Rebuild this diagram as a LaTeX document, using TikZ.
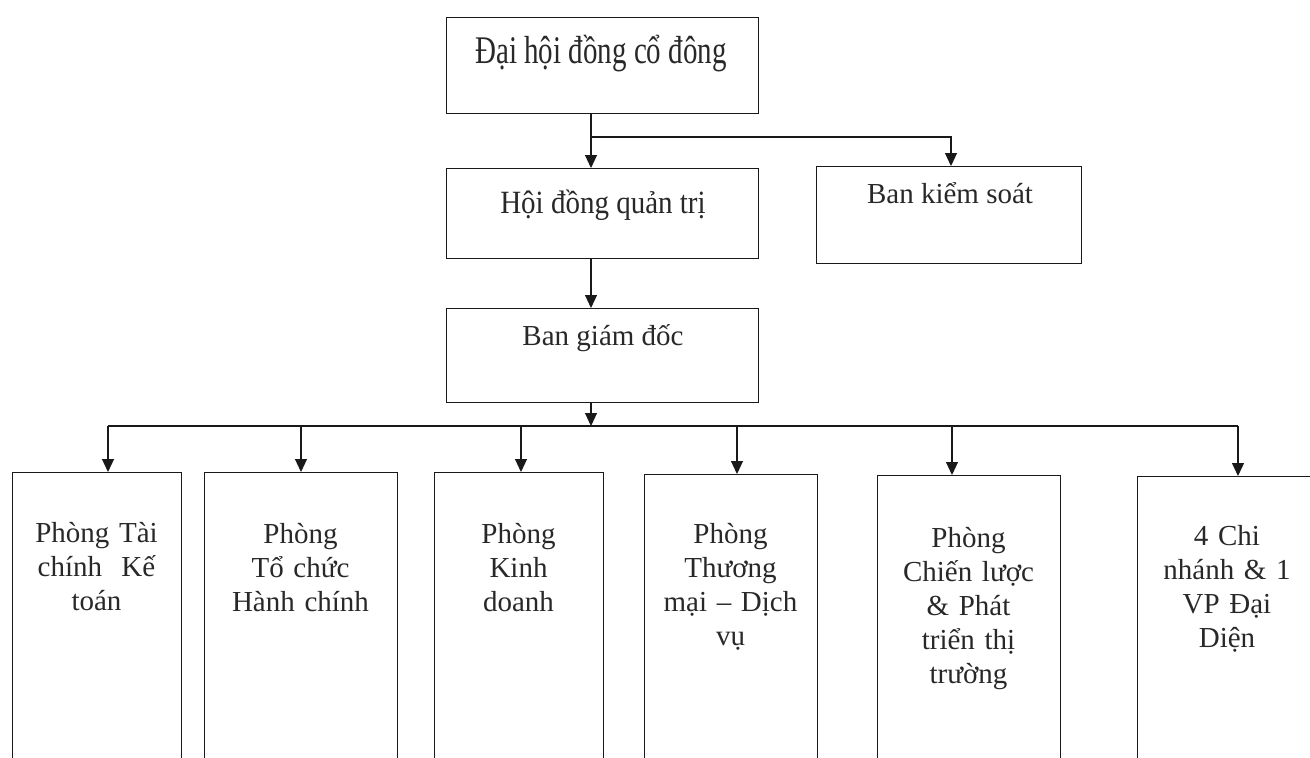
\documentclass[tikz,border=0pt]{standalone}
\usepackage{fontspec}
\setmainfont{Liberation Serif}
\usetikzlibrary{arrows.meta}
\definecolor{ink}{RGB}{40,40,40}
\definecolor{edge}{RGB}{25,25,25}
\begin{document}
\begin{tikzpicture}[x=1pt,y=-1pt,
  box/.style={draw=edge, line width=1.1pt, inner sep=0pt, anchor=north west},
  lbl/.style={anchor=base, inner sep=0pt, align=center, text=ink,
    font=\fontsize{29}{34}\selectfont},
  mlbl/.style={lbl, text width=190pt},
  ln/.style={draw=edge, line width=1.1pt},
  arr/.style={draw=edge, line width=1.1pt, -{Triangle[length=13pt,width=12pt]}}]
\useasboundingbox (0,0) rectangle (1310,758);
\clip (0,0) rectangle (1310,758);
% boxes
\node[box, minimum width=312pt, minimum height=96pt] (dhd) at (446,17) {};
\node[box, minimum width=312pt, minimum height=90pt] (hdqt) at (446,168) {};
\node[box, minimum width=265pt, minimum height=97pt] (bks) at (816,166) {};
\node[box, minimum width=312pt, minimum height=94pt] (bgd) at (446,308) {};
\node[box, minimum width=169pt, minimum height=320pt] (p1) at (12,472) {};
\node[box, minimum width=193pt, minimum height=320pt] (p2) at (204,472) {};
\node[box, minimum width=169pt, minimum height=320pt] (p3) at (434,472) {};
\node[box, minimum width=173pt, minimum height=320pt] (p4) at (644,474) {};
\node[box, minimum width=183pt, minimum height=320pt] (p5) at (877,475) {};
\node[box, minimum width=200pt, minimum height=320pt] (p6) at (1137,476) {};
% labels
\node[lbl] (tdhd) at (601,63) {\scalebox{1}[1.35]{Đại hội đồng cổ đông}};
\node[lbl] (thdqt) at (603,213) {\scalebox{1}[1.12]{Hội đồng quản trị}};
\node[lbl] (tbks) at (950,203) {Ban kiểm soát};
\node[lbl] (tbgd) at (603,345) {Ban giám đốc};
\node[mlbl] (t1) at (96.5,542) {Phòng Tài\\chính\ \ Kế\\toán};
\node[mlbl] (t2) at (300.5,543) {Phòng\\Tổ chức\\Hành chính};
\node[mlbl] (t3) at (518.5,543) {Phòng\\Kinh\\doanh};
\node[mlbl] (t4) at (730.5,543) {Phòng\\Thương\\mại – Dịch\\vụ};
\node[mlbl] (t5) at (968.5,547) {Phòng\\Chiến lược\\\& Phát\\triển thị\\trường};
\node[mlbl] (t6) at (1227,545) {4 Chi\\nhánh \& 1\\VP Đại\\Diện};
% connectors
\coordinate (j1) at (591,137);
\coordinate (j2) at (951,137);
\draw[arr] (j1 |- dhd.south) -- (j1 |- hdqt.north);
\draw[arr] (j1) -| (j2 |- bks.north);
\draw[arr] (j1 |- hdqt.south) -- (j1 |- bgd.north);
\coordinate (bus) at (591,426);
\draw[arr] (bus |- bgd.south) -- (bus);
\coordinate (b1) at (108,426);
\coordinate (b2) at (301,426);
\coordinate (b3) at (521,426);
\coordinate (b4) at (737,426);
\coordinate (b5) at (952,426);
\coordinate (b6) at (1238,426);
\draw[ln] (b1) -- (b6);
\draw[arr] (b1) -- (b1 |- p1.north);
\draw[arr] (b2) -- (b2 |- p2.north);
\draw[arr] (b3) -- (b3 |- p3.north);
\draw[arr] (b4) -- (b4 |- p4.north);
\draw[arr] (b5) -- (b5 |- p5.north);
\draw[arr] (b6) -- (b6 |- p6.north);
\end{tikzpicture}
\end{document}
